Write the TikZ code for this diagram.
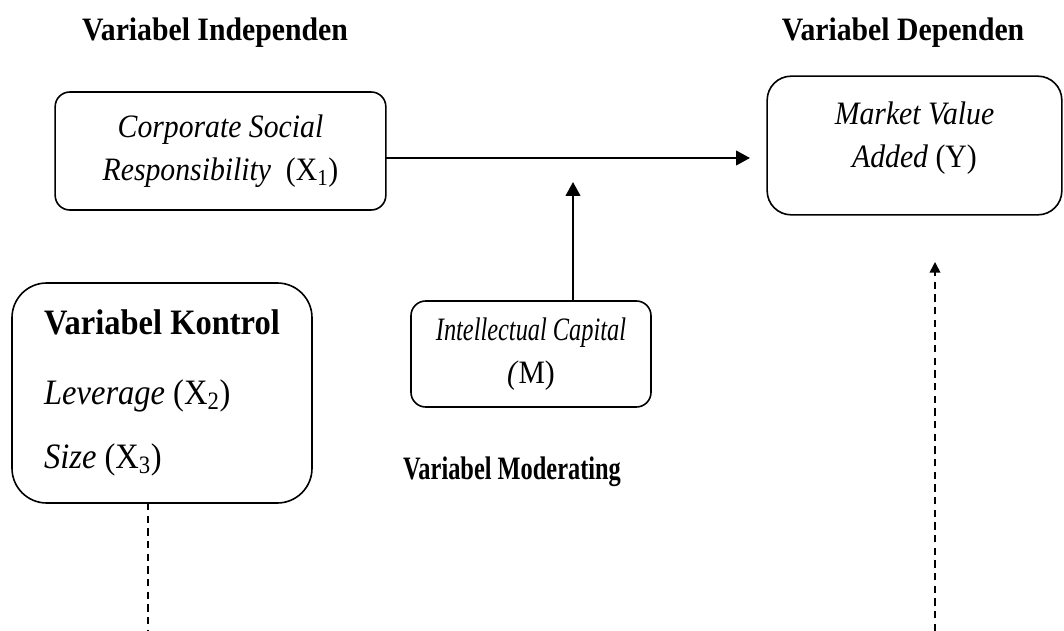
\documentclass[tikz,border=0pt]{standalone}
\usepackage{fontspec}
\setmainfont{Liberation Serif}[FakeStretch=0.91]
\usetikzlibrary{arrows.meta}
\newcommand{\narrow}[1]{\scalebox{0.82}[1]{#1}}

\begin{document}
\begin{tikzpicture}[x=0.75pt,y=-0.75pt]
	\tikzstyle{every node}+=[inner sep=0pt,outer sep=0pt,font=\fontsize{24.5}{32}\selectfont]
	\tikzstyle{varbox}=[draw=black,line width=1.2pt,align=center]
	\tikzstyle{heading}=[font=\fontsize{24.5}{32}\selectfont\bfseries]
	\tikzstyle{link}=[line width=1.6pt,-{Triangle[length=10.5pt,width=11pt]}]
	\tikzstyle{ctrl}=[line width=1.2pt,dash pattern=on 5.5pt off 4pt]
	\useasboundingbox (0,0) rectangle (1064,631);

	% headings
	\node[heading] (indep) at (215,33) {Variabel Independen};
	\node[heading] (dep) at (903,33) {Variabel Dependen};
	\node[heading] (moder) at (512,472) {\narrow{Variabel Moderating}};

	% boxes
	\node[varbox,rounded corners=11pt,minimum width=248pt,minimum height=88.5pt] (csr) at (220.5,151)
		{\textit{Corporate Social}\\\textit{Responsibility}~ (X\textsubscript{1})};
	\node[varbox,rounded corners=18pt,minimum width=221pt,minimum height=104pt] (mva) at (914.5,145.5)
		{\textit{Market Value}\\\textit{Added} (Y)\\[-16pt]};
	\node[varbox,rounded corners=11pt,minimum width=180pt,minimum height=79.5pt] (ic) at (531,354)
		{\narrow{\textit{Intellectual Capital}}\\\textit{(}M)};
	\node[varbox,align=left,rounded corners=26pt,minimum width=225pt,minimum height=165pt,
		font=\fontsize{26.8}{32}\selectfont] (kontrol) at (162,393)
		{\textbf{Variabel Kontrol}\\[20pt]\textit{Leverage} (X\textsubscript{2})\\[16pt]\textit{Size} (X\textsubscript{3})};

	% connectors
	\coordinate (tipY) at (750,158);
	\coordinate (tipM) at (573,182);
	\coordinate (ctrlend) at (148,631);
	\coordinate (ctrlbase) at (935,631);
	\coordinate (tipC) at (935,262);
	\draw[link] (csr.east |- tipY) -- (tipY);
	\draw[link] (ic.north -| tipM) -- (tipM);
	\draw[ctrl] (kontrol.south -| ctrlend) -- (ctrlend);
	\draw[ctrl,-{Triangle[length=8pt,width=8pt]}] (ctrlbase) -- (tipC);
\end{tikzpicture}
\end{document}
